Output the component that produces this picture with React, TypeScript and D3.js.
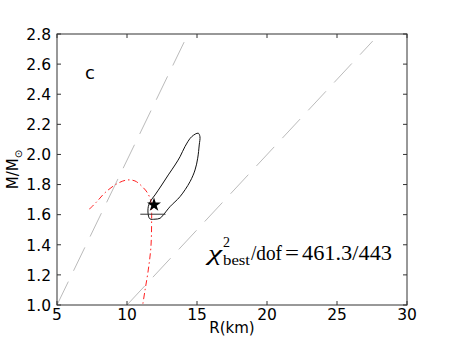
import React from "react";
import * as d3 from "d3";

// radius (km) / mass (Msun) pairs
const redCurveR = [7.31, 7.84, 8.43, 9.26, 9.98, 10.57, 11.09, 11.48, 11.71, 11.76, 11.76, 11.71, 11.52, 11.29, 11.12];
const redCurveM = [1.636, 1.686, 1.746, 1.804, 1.83, 1.824, 1.786, 1.742, 1.686, 1.609, 1.565, 1.388, 1.233, 1.1, 1.0];

const contourR = [15.09, 14.62, 14.14, 13.79, 13.43, 12.95, 12.48, 12.0, 11.69, 11.52, 11.52, 11.64, 12.0, 12.36, 12.59, 13.07, 13.79, 14.5, 14.86, 15.05, 15.16, 15.21];
const contourM = [2.141, 2.118, 2.052, 1.985, 1.93, 1.864, 1.797, 1.731, 1.691, 1.653, 1.598, 1.572, 1.57, 1.576, 1.598, 1.653, 1.72, 1.819, 1.897, 1.975, 2.063, 2.118];

// gray dashed reference lines: [R0, M0, R1, M1]
const grayLines = [
  [5, 1.0, 14.36, 2.8],
  [10, 1.0, 27.55, 2.753],
];

const bestFit = { r: 11.93, m: 1.665 };
const errBar = { r0: 10.95, r1: 12.75, m: 1.603 };

const xTicks = [5, 10, 15, 20, 25, 30];
const yTicks = [1.0, 1.2, 1.4, 1.6, 1.8, 2.0, 2.2, 2.4, 2.6, 2.8];

const W = 452;
const H = 339;
const margin = { left: 57, right: 45, top: 34, bottom: 34 };

const App = () => {
  const x = d3.scaleLinear().domain([5, 30]).range([margin.left, W - margin.right]);
  const y = d3.scaleLinear().domain([1.0, 2.8]).range([H - margin.bottom, margin.top]);

  const redPts: [number, number][] = redCurveR.map((r, i) => [x(r), y(redCurveM[i])]);
  const contPts: [number, number][] = contourR.map((r, i) => [x(r), y(contourM[i])]);
  const curve = d3.line().curve(d3.curveCatmullRom.alpha(0.5));
  const closed = d3.line().curve(d3.curveCatmullRomClosed.alpha(0.5));

  const star = d3.symbol().type(d3.symbolStar).size(60)();

  const x0 = x(5), x1 = x(30), y0 = y(1.0), y1 = y(2.8);
  const tickLen = 4;
  const sans = "DejaVu Sans, sans-serif";
  const serif = "Liberation Serif, serif";
  const frame = "#333";

  return (
    <svg width={W} height={H} style={{ position: "absolute", left: 0, top: 0 }}>
      <defs>
        <clipPath id="plotClip">
          <rect x={x0} y={y1} width={x1 - x0} height={y0 - y1} />
        </clipPath>
      </defs>
      <rect x={0} y={0} width={W} height={H} fill="white" />

      <g clipPath="url(#plotClip)">
        {grayLines.map((l, i) => (
          <line
            key={i}
            x1={x(l[0])}
            y1={y(l[1])}
            x2={x(l[2])}
            y2={y(l[3])}
            stroke="#bbbbbb"
            strokeWidth={1}
            strokeDasharray="26,12"
          />
        ))}
        <path d={curve(redPts) || ""} fill="none" stroke="#ff2020" strokeWidth={1} strokeDasharray="6,3,1.5,3" />
        <path d={closed(contPts) || ""} fill="none" stroke="#111" strokeWidth={1} />
        <line x1={x(errBar.r0)} x2={x(errBar.r1)} y1={y(errBar.m)} y2={y(errBar.m)} stroke="#333" strokeWidth={1} />
        <path d={star || ""} transform={`translate(${x(bestFit.r)},${y(bestFit.m)})`} fill="black" />
      </g>

      {/* frame */}
      <rect x={x0} y={y1} width={x1 - x0} height={y0 - y1} fill="none" stroke={frame} strokeWidth={1} />

      {/* ticks */}
      {xTicks.map((t) => (
        <g key={"x" + t}>
          <line x1={x(t)} x2={x(t)} y1={y0} y2={y0 - tickLen} stroke={frame} />
          <line x1={x(t)} x2={x(t)} y1={y1} y2={y1 + tickLen} stroke={frame} />
          <text x={x(t)} y={320} textAnchor="middle" fontFamily={sans} fontSize={15.5}>
            {t}
          </text>
        </g>
      ))}
      {yTicks.map((t) => (
        <g key={"y" + t}>
          <line x1={x0} x2={x0 + tickLen} y1={y(t)} y2={y(t)} stroke={frame} />
          <line x1={x1} x2={x1 - tickLen} y1={y(t)} y2={y(t)} stroke={frame} />
          <text x={51} y={y(t) + 5.8} textAnchor="end" fontFamily={sans} fontSize={15.5}>
            {t.toFixed(1)}
          </text>
        </g>
      ))}

      {/* axis labels */}
      <text x={(x0 + x1) / 2} y={333} textAnchor="middle" fontFamily={sans} fontSize={15}>
        R(km)
      </text>
      <text transform={`translate(18,${(y0 + y1) / 2}) rotate(-90)`} textAnchor="middle" fontFamily={sans} fontSize={15}>
        M/M<tspan fontSize={10} dy={4}>⊙</tspan>
      </text>

      <text x={85} y={79} fontFamily={sans} fontSize={18}>
        c
      </text>

      {/* chi-square annotation */}
      <g fontFamily={serif}>
        <text x={208} y={260} fontSize={22} fontStyle="italic" textLength={14} lengthAdjust="spacingAndGlyphs">χ</text>
        <text x={223} y={247} fontSize={14}>2</text>
        <text x={223} y={265} fontSize={14.5} textLength={27} lengthAdjust="spacingAndGlyphs">best</text>
        <text x={251} y={260} fontSize={21} textLength={31} lengthAdjust="spacingAndGlyphs">/dof</text>
        <text x={285} y={260} fontSize={21} textLength={14} lengthAdjust="spacingAndGlyphs">=</text>
        <text x={302} y={260} fontSize={21} textLength={90} lengthAdjust="spacingAndGlyphs">461.3/443</text>
      </g>
    </svg>
  );
};

export default App;
